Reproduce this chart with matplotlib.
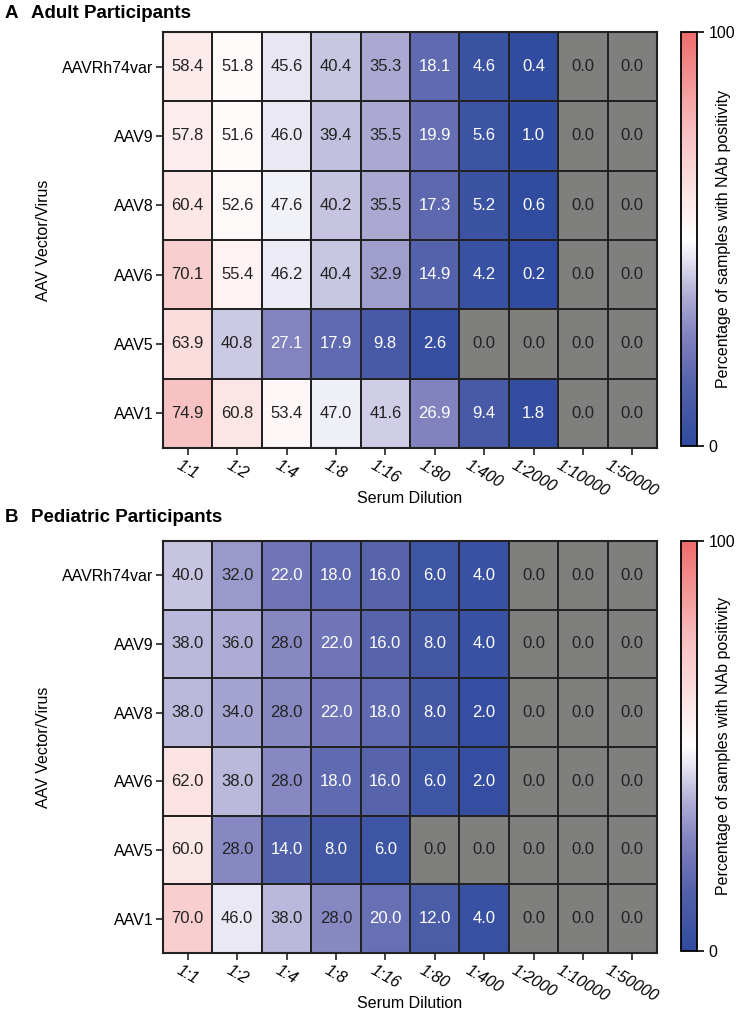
import matplotlib
matplotlib.use("Agg")
import matplotlib.pyplot as plt
import numpy as np
from matplotlib.colors import LinearSegmentedColormap

plt.rcParams['font.family'] = ['Liberation Sans', 'DejaVu Sans']

vectors = ["AAVRh74var", "AAV9", "AAV8", "AAV6", "AAV5", "AAV1"]
dilutions = ["1:1", "1:2", "1:4", "1:8", "1:16", "1:80", "1:400", "1:2000", "1:10000", "1:50000"]

adult = [
    [58.4, 51.8, 45.6, 40.4, 35.3, 18.1, 4.6, 0.4, 0.0, 0.0],
    [57.8, 51.6, 46.0, 39.4, 35.5, 19.9, 5.6, 1.0, 0.0, 0.0],
    [60.4, 52.6, 47.6, 40.2, 35.5, 17.3, 5.2, 0.6, 0.0, 0.0],
    [70.1, 55.4, 46.2, 40.4, 32.9, 14.9, 4.2, 0.2, 0.0, 0.0],
    [63.9, 40.8, 27.1, 17.9, 9.8, 2.6, 0.0, 0.0, 0.0, 0.0],
    [74.9, 60.8, 53.4, 47.0, 41.6, 26.9, 9.4, 1.8, 0.0, 0.0],
]
pediatric = [
    [40.0, 32.0, 22.0, 18.0, 16.0, 6.0, 4.0, 0.0, 0.0, 0.0],
    [38.0, 36.0, 28.0, 22.0, 16.0, 8.0, 4.0, 0.0, 0.0, 0.0],
    [38.0, 34.0, 28.0, 22.0, 18.0, 8.0, 2.0, 0.0, 0.0, 0.0],
    [62.0, 38.0, 28.0, 18.0, 16.0, 6.0, 2.0, 0.0, 0.0, 0.0],
    [60.0, 28.0, 14.0, 8.0, 6.0, 0.0, 0.0, 0.0, 0.0, 0.0],
    [70.0, 46.0, 38.0, 28.0, 20.0, 12.0, 4.0, 0.0, 0.0, 0.0],
]

cmap = LinearSegmentedColormap.from_list("nab", [
    (0.0, "#304b9f"),
    (0.15, "#5462ab"),
    (0.27, "#8383c0"),
    (0.36, "#aeacd4"),
    (0.45, "#e4e3f1"),
    (0.5, "#ffffff"),
    (0.75, "#f8c2c3"),
    (1.0, "#ef6c6c"),
])
cmap.set_bad("#7f807e")

fig = plt.figure(figsize=(7.36, 10.16), dpi=100)

W, H = 736, 1016
# letter, title, data, heatmap top/bottom, colorbar bottom, title y (pixels)
panels = [
    ("A", "Adult Participants", adult, 32, 448, 446, 13),
    ("B", "Pediatric Participants", pediatric, 541, 953, 951, 518),
]

for letter, title, data, top, bottom, cb_bottom, title_y in panels:
    vals = np.array(data)
    ax = fig.add_axes([163 / W, 1 - bottom / H, (657 - 163) / W, (bottom - top) / H])
    masked = np.ma.masked_equal(vals, 0.0)
    mesh = ax.pcolormesh(masked, cmap=cmap, vmin=0, vmax=100,
                         edgecolors="#222222", linewidth=1.3)
    ax.set_xlim(0, len(dilutions))
    ax.set_ylim(len(vectors), 0)
    for i in range(len(vectors)):
        for j in range(len(dilutions)):
            v = vals[i, j]
            col = "white" if 0 < v < 27.5 else "#222222"
            ax.text(j + 0.5, i + 0.5, f"{v:.1f}", ha="center", va="center",
                    fontsize=12, color=col)
    ax.set_xticks(np.arange(len(dilutions)) + 0.5)
    ax.set_xticklabels(dilutions, rotation=-30, ha="center", va="top",
                       fontsize=11.5, style="italic")
    ax.set_yticks(np.arange(len(vectors)) + 0.5)
    ax.set_yticklabels(vectors, fontsize=11.5)
    ax.tick_params(length=5, width=1.2, color="#222222", pad=2)
    for s in ax.spines.values():
        s.set_linewidth(1.5)
        s.set_color("#222222")
    ax.set_xlabel("Serum Dilution", fontsize=11.5, labelpad=-6)
    ax.set_ylabel("AAV Vector/Virus", fontsize=11.5, labelpad=8)

    cax = fig.add_axes([681 / W, 1 - cb_bottom / H, 16 / W, (cb_bottom - top) / H])
    cb = fig.colorbar(mesh, cax=cax, ticks=[0, 100])
    cb.outline.set_linewidth(1.3)
    cb.ax.tick_params(labelsize=11.5, length=5, width=1.2)
    cb.set_label("Percentage of samples with NAb positivity", fontsize=11.5, labelpad=-14)

    fig.text(5 / W, 1 - title_y / H, letter, fontsize=13.5, fontweight="bold", va="center")
    fig.text(31 / W, 1 - title_y / H, title, fontsize=13.5, fontweight="bold", va="center")

fig.savefig("out.png", dpi=100)
